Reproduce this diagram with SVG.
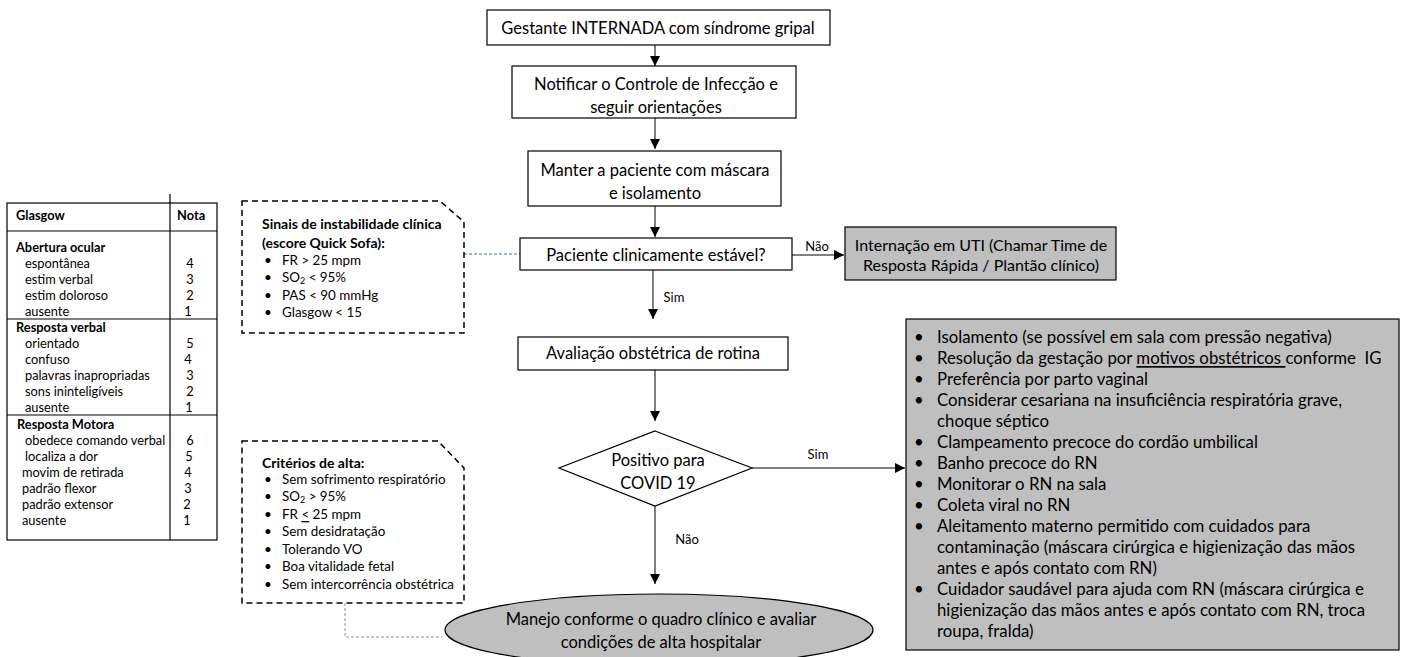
<svg xmlns="http://www.w3.org/2000/svg" width="1405" height="657" viewBox="0 0 1405 657">
<style>
text{font-family:Lato,"Liberation Sans",sans-serif;fill:#000;dominant-baseline:central}
.b{font-weight:bold}
.box{fill:#fff;stroke:#000;stroke-width:1.2}
.gray{fill:#bfbfbf;stroke:#000;stroke-width:1.2}
.dash{fill:#fff;stroke:#000;stroke-width:1.5;stroke-dasharray:6 4}
.ln{stroke:#000;stroke-width:1;fill:none}
.m{font-size:16.5px;text-anchor:middle}
.g{font-size:12.8px}
.s{font-size:13.4px}
.sb{font-size:14px;font-weight:bold}
.r{font-size:16.8px}
.lbl{font-size:13px;text-anchor:middle}
</style>
<defs>
<marker id="ah" viewBox="0 0 10 10" refX="10" refY="5" markerWidth="10" markerHeight="10" markerUnits="userSpaceOnUse" orient="auto">
<path d="M0,0 L10,5 L0,10 z" fill="#000"/>
</marker>
</defs>

<g id="glasgow">
<rect x="7" y="203" width="210" height="337" fill="#fff" stroke="#000" stroke-width="1.2"/>
<line x1="170" y1="194" x2="170" y2="540" stroke="#000" stroke-width="1.2"/>
<line x1="7" y1="231" x2="217" y2="231" stroke="#000" stroke-width="1.2"/>
<line x1="7" y1="319" x2="217" y2="319" stroke="#000" stroke-width="1.2"/>
<line x1="7" y1="415" x2="217" y2="415" stroke="#000" stroke-width="1.2"/>
<text class="g b" x="16" y="215">Glasgow</text>
<text class="g b" x="177" y="215">Nota</text>
<text class="g b" x="16" y="247">Abertura ocular</text>
<text class="g" x="25" y="263">espontânea</text>
<text class="g" x="25" y="279">estim verbal</text>
<text class="g" x="25" y="295">estim doloroso</text>
<text class="g" x="25" y="311">ausente</text>
<text class="g b" x="16" y="327">Resposta verbal</text>
<text class="g" x="25" y="343">orientado</text>
<text class="g" x="25" y="359">confuso</text>
<text class="g" x="25" y="375">palavras inapropriadas</text>
<text class="g" x="25" y="391">sons ininteligíveis</text>
<text class="g" x="25" y="407">ausente</text>
<text class="g b" x="17" y="424">Resposta Motora</text>
<text class="g" x="25" y="440">obedece comando verbal</text>
<text class="g" x="25" y="456">localiza a dor</text>
<text class="g" x="22" y="472">movim de retirada</text>
<text class="g" x="22" y="488">padrão flexor</text>
<text class="g" x="22" y="504">padrão extensor</text>
<text class="g" x="22" y="520">ausente</text>
<g class="g" text-anchor="middle">
<text x="190" y="263">4</text><text x="190" y="279">3</text><text x="190" y="295">2</text><text x="188" y="311">1</text>
<text x="190" y="343">5</text><text x="188" y="359">4</text><text x="190" y="375">3</text><text x="190" y="391">2</text><text x="189" y="407">1</text>
<text x="190" y="440">6</text><text x="189" y="456">5</text><text x="188" y="472">4</text><text x="188" y="488">3</text><text x="187" y="504">2</text><text x="187" y="520">1</text>
</g>
</g>

<g id="connectors">
<line class="ln" x1="655" y1="45" x2="655" y2="66" marker-end="url(#ah)"/>
<line class="ln" x1="655" y1="118" x2="655" y2="149" marker-end="url(#ah)"/>
<line class="ln" x1="655" y1="206" x2="655" y2="237" marker-end="url(#ah)"/>
<line class="ln" x1="792" y1="255" x2="844" y2="255" marker-end="url(#ah)"/>
<line class="ln" x1="653" y1="270" x2="653" y2="319" marker-end="url(#ah)"/>
<line class="ln" x1="655" y1="370" x2="655" y2="421" marker-end="url(#ah)"/>
<line class="ln" x1="752" y1="468" x2="905" y2="468" marker-end="url(#ah)"/>
<line class="ln" x1="655" y1="506" x2="655" y2="584" marker-end="url(#ah)"/>
<line x1="464" y1="254" x2="520" y2="254" stroke="#7f9fd4" stroke-width="1.5" stroke-dasharray="3 2"/>
<polyline points="345,603 345,637 442,637" fill="none" stroke="#8090a8" stroke-width="1" stroke-dasharray="3 2"/>
<text class="lbl" x="817" y="246">Não</text>
<text class="lbl" x="674" y="297">Sim</text>
<text class="lbl" x="818" y="454">Sim</text>
<text class="lbl" x="687" y="539">Não</text>
</g>

<g id="n1">
<rect class="box" x="487" y="10" width="343" height="35"/>
<text class="m" x="658" y="28">Gestante INTERNADA com síndrome gripal</text>
</g>
<g id="n2">
<rect class="box" x="512" y="66" width="284" height="52"/>
<text class="m" x="656" y="84">Notificar o Controle de Infecção e</text>
<text class="m" x="656" y="107">seguir orientações</text>
</g>
<g id="n3">
<rect class="box" x="528" y="151" width="253" height="55"/>
<text class="m" x="655" y="170">Manter a paciente com máscara</text>
<text class="m" x="655" y="193">e isolamento</text>
</g>
<g id="n4">
<rect class="box" x="520" y="238" width="272" height="32"/>
<text class="m" x="656" y="255">Paciente clinicamente estável?</text>
</g>
<g id="n5">
<rect class="gray" x="845" y="227" width="271" height="53"/>
<text class="m" x="981" y="244" style="font-size:16px">Internação em UTI (Chamar Time de</text>
<text class="m" x="981" y="264" style="font-size:16px">Resposta Rápida / Plantão clínico)</text>
</g>
<g id="n6">
<rect class="box" x="518" y="337" width="270" height="33"/>
<text class="m" x="653" y="353">Avaliação obstétrica de rotina</text>
</g>
<g id="n7">
<polygon class="box" points="655,431 752,468 655,506 559,468"/>
<text class="m" x="658" y="460">Positivo para</text>
<text class="m" x="658" y="483">COVID 19</text>
</g>
<g id="n8">
<ellipse class="gray" cx="659" cy="630" rx="214" ry="36"/>
<text class="m" x="661" y="619">Manejo conforme o quadro clínico e avaliar</text>
<text class="m" x="661" y="642">condições de alta hospitalar</text>
</g>

<g id="sinais">
<path class="dash" d="M242,201 L440,201 L464,222 L464,333 L242,333 Z"/>
<text class="sb" x="262" y="223">Sinais de instabilidade clínica</text>
<text class="sb" x="262" y="242">(escore Quick Sofa):</text>
<g class="s">
<text x="264" y="260">•</text><text x="282" y="260">FR &gt; 25 mpm</text>
<text x="264" y="277">•</text><text x="282" y="277">SO<tspan font-size="9" dy="3">2</tspan><tspan dy="-3"> &lt; 95%</tspan></text>
<text x="264" y="295">•</text><text x="282" y="295">PAS &lt; 90 mmHg</text>
<text x="264" y="312">•</text><text x="282" y="312">Glasgow &lt; 15</text>
</g>
</g>

<g id="criterios">
<path class="dash" d="M242,441 L438,441 L464,468 L464,603 L242,603 Z"/>
<text class="sb" x="262" y="462">Critérios de alta:</text>
<g class="s">
<text x="264" y="479">•</text><text x="282" y="479">Sem sofrimento respiratório</text>
<text x="264" y="496">•</text><text x="282" y="496">SO<tspan font-size="9" dy="3">2</tspan><tspan dy="-3"> &gt; 95%</tspan></text>
<text x="264" y="514">•</text><text x="282" y="514">FR <tspan text-decoration="underline">&lt;</tspan> 25 mpm</text>
<text x="264" y="531">•</text><text x="282" y="531">Sem desidratação</text>
<text x="264" y="549">•</text><text x="282" y="549">Tolerando VO</text>
<text x="264" y="566">•</text><text x="282" y="566">Boa vitalidade fetal</text>
<text x="264" y="584">•</text><text x="282" y="584">Sem intercorrência obstétrica</text>
</g>
</g>

<g id="conduta">
<rect class="gray" x="906" y="319" width="493" height="331"/>
<g class="r">
<text x="914" y="336">•</text><text x="937" y="336">Isolamento (se possível em sala com pressão negativa)</text>
<text x="914" y="357">•</text><text x="937" y="357">Resolução da gestação por <tspan text-decoration="underline">motivos obstétricos </tspan>conforme&#160; IG</text>
<text x="914" y="378">•</text><text x="937" y="378">Preferência por parto vaginal</text>
<text x="914" y="399">•</text><text x="937" y="399">Considerar cesariana na insuficiência respiratória grave,</text>
<text x="937" y="420">choque séptico</text>
<text x="914" y="441">•</text><text x="937" y="441">Clampeamento precoce do cordão umbilical</text>
<text x="914" y="462">•</text><text x="937" y="462">Banho precoce do RN</text>
<text x="914" y="483">•</text><text x="937" y="483">Monitorar o RN na sala</text>
<text x="914" y="504">•</text><text x="937" y="504">Coleta viral no RN</text>
<text x="914" y="525">•</text><text x="937" y="525">Aleitamento materno permitido com cuidados para</text>
<text x="937" y="546">contaminação (máscara cirúrgica e higienização das mãos</text>
<text x="937" y="567">antes e após contato com RN)</text>
<text x="914" y="588">•</text><text x="937" y="588">Cuidador saudável para ajuda com RN (máscara cirúrgica e</text>
<text x="937" y="609">higienização das mãos antes e após contato com RN, troca</text>
<text x="937" y="630">roupa, fralda)</text>
</g>
</g>
</svg>
